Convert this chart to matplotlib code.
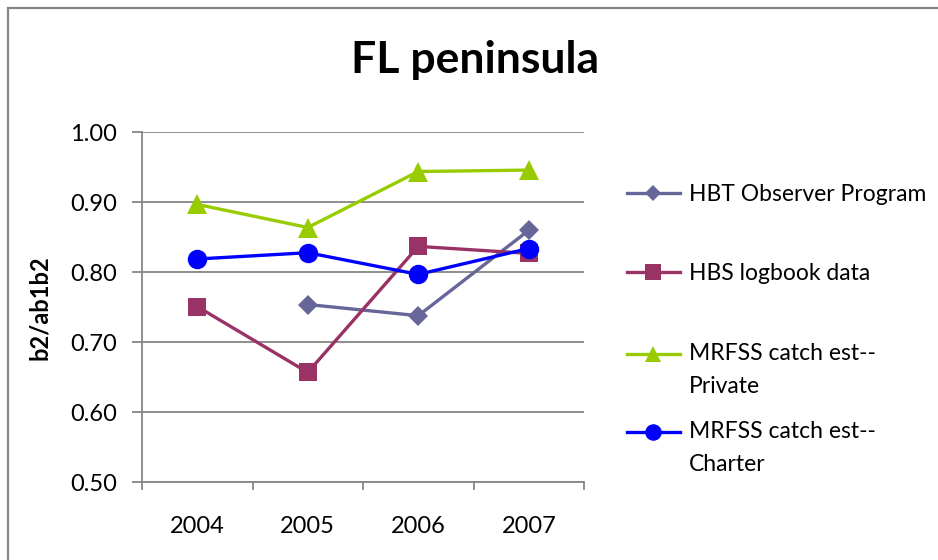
import matplotlib
matplotlib.use("Agg")
import matplotlib.pyplot as plt
from matplotlib.patches import Rectangle
import numpy as np

plt.rcParams['font.family'] = ['Lato', 'DejaVu Sans']

years = ["2004", "2005", "2006", "2007"]
hbt_observer = [np.nan, 0.754, 0.738, 0.860]
hbs_logbook = [0.751, 0.657, 0.837, 0.827]
mrfss_private = [0.897, 0.864, 0.944, 0.946]
mrfss_charter = [0.819, 0.828, 0.797, 0.834]
labels = ["HBT Observer Program", "HBS logbook data",
          "MRFSS catch est--\nPrivate", "MRFSS catch est--\nCharter"]
yticks = [0.50, 0.60, 0.70, 0.80, 0.90, 1.00]

W, H = 938, 560
fig = plt.figure(figsize=(W / 100, H / 100), dpi=100)
fig.patch.set_facecolor("white")
fig.patches.append(Rectangle((8 / W, -0.1), 1.2, (H - 8) / H + 0.1,
                             transform=fig.transFigure, fill=False,
                             edgecolor="#868686", linewidth=1.6))

ax = fig.add_axes([142 / W, (H - 482.3) / H, (584 - 142) / W, (482.3 - 132.3) / H])
x = np.arange(1, len(years) + 1)

series = [
    (hbt_observer, "#666699", "D", 10),
    (hbs_logbook, "#993366", "s", 13.5),
    (mrfss_private, "#99CC00", "^", 14),
    (mrfss_charter, "#0000FF", "o", 14),
]
lines = []
for (vals, col, mk, ms), lab in zip(series, labels):
    ln, = ax.plot(x, vals, color=col, marker=mk, markersize=ms, linewidth=2.4,
                  markeredgewidth=0, label=lab, zorder=3)
    lines.append(ln)

FS = 17
ax.set_xlim(0.5, len(years) + 0.5)
ax.set_ylim(0.5, 1.0)
ax.set_yticks(yticks)
ax.set_yticklabels([f"{v:.2f}" for v in yticks])
ax.set_xticks(x)
ax.set_xticklabels(years)
ax.set_xticks(np.arange(0.5, len(years) + 1, 1.0), minor=True)
ax.tick_params(axis="x", which="major", length=0, labelsize=FS, pad=24)
ax.tick_params(axis="x", which="minor", length=6, width=1.3, color="#868686", direction="out")
ax.tick_params(axis="y", length=7, width=1.3, color="#868686", labelsize=FS, pad=11)
ax.grid(axis="y", color="#868686", linewidth=1.3, zorder=0)
for s in ["top", "right"]:
    ax.spines[s].set_visible(False)
for s in ["left", "bottom"]:
    ax.spines[s].set_color("#868686")
    ax.spines[s].set_linewidth(1.3)
ax.set_facecolor("white")

ax.set_ylabel("b2/ab1b2", fontsize=FS, fontweight="bold", labelpad=14)
fig.text(475 / W, 1 - 60 / H, "FL peninsula", fontsize=32, fontweight="bold",
         ha="center", va="center")

LFS = 16.5
LSP = 1.71
LINE_PT = 33 * 0.72  # distance between the two lines of a label, in points
leg_kw = dict(loc="upper left", frameon=False, fontsize=LFS, handlelength=2.3,
              borderpad=0, borderaxespad=0, handletextpad=0.4,
              labelspacing=2.55, markerscale=0.85)


def style_legend(leg):
    for t, h in zip(leg.get_texts(), leg.legend_handles):
        t.set_linespacing(LSP)
        if "\n" in t.get_text():
            # put the handle level with the first line of a two-line label
            h.set_ydata(np.asarray(h.get_ydata()) + 0.5 * LINE_PT)


leg1 = fig.legend(lines[:3], labels[:3], bbox_to_anchor=(627 / W, 1 - 184 / H), **leg_kw)
style_legend(leg1)
leg2 = fig.legend(lines[3:], labels[3:], bbox_to_anchor=(627 / W, 1 - 421 / H), **leg_kw)
style_legend(leg2)

fig.savefig("out.png", dpi=100)
